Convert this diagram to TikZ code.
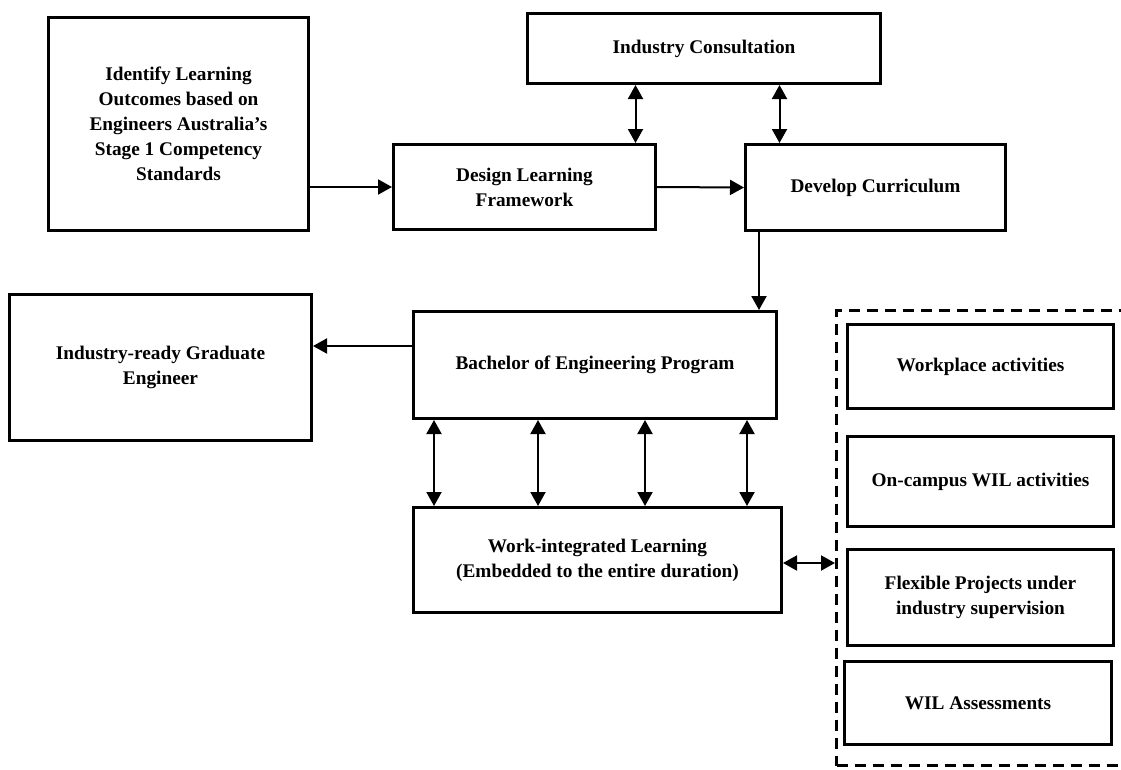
\documentclass[tikz,border=0pt]{standalone}
\usepackage{fontspec}
\setmainfont{Liberation Serif}
\usepackage{tikz}
\usetikzlibrary{arrows.meta, positioning}
\tikzstyle{process} = [rectangle, line width=3.3pt, draw=black, fill=white, inner sep=0pt, align=center, font=\bfseries\fontsize{19.3}{25}\selectfont]
\tikzstyle{group} = [rectangle, line width=3pt, draw=black, dash pattern=on 11pt off 7pt]
\tikzstyle{arrow} = [line width=2pt, -{Triangle[length=14pt, width=15pt]}]
\tikzstyle{dblarrow} = [line width=2pt, {Triangle[length=14pt, width=15pt]}-{Triangle[length=14pt, width=15pt]}]

\begin{document}
\begin{tikzpicture}[x=1pt, y=-1pt]
		\useasboundingbox (0,0) rectangle (1121,769);
		\clip (0,0) rectangle (1121,769);
		
		\node (ident) [process, minimum width=259.7pt, minimum height=212.7pt] at (178.5,124) {Identify Learning\\Outcomes based on\\Engineers Australia’s\\Stage 1 Competency\\Standards};
		\node (consult) [process, minimum width=352.7pt, minimum height=69.7pt] at (704,48.5) {Industry Consultation};
		\node (design) [process, minimum width=261.7pt, minimum height=84.7pt] at (524.5,187) {Design Learning\\Framework};
		\node (develop) [process, minimum width=259.7pt, minimum height=85.7pt] at (875.5,187.5) {Develop Curriculum};
		
		\node (grad) [process, minimum width=301.7pt, minimum height=145.7pt] at (160.5,367.5) {Industry-ready Graduate\\Engineer};
		\node (bachelor) [process, minimum width=362.7pt, minimum height=106.7pt] at (595,365) {Bachelor of Engineering Program};
		\node (wil) [process, minimum width=367.7pt, minimum height=104.7pt] at (597.5,560) {Work-integrated Learning\\(Embedded to the entire duration)};
		
		\node (wilgroup) [group, minimum width=297pt, minimum height=455pt] at (985,538) {};
		\node (work) [process, minimum width=265.7pt, minimum height=83.7pt] at (980.5,366.5) {Workplace activities};
		\node (oncampus) [process, minimum width=265.7pt, minimum height=89.7pt, below=25pt of work] {On-campus WIL activities};
		\node (flex) [process, minimum width=265.7pt, minimum height=95.7pt, below=20pt of oncampus] {Flexible Projects under\\industry supervision};
		\node (assess) [process, minimum width=266.7pt, minimum height=82.7pt, below=13pt of flex, xshift=-2.5pt] {WIL Assessments};
		
		\draw [arrow] (ident.east |- design.west) -- (design.west);
		\draw [arrow] (design.east) -- (develop.west);
		\draw [dblarrow] ([xshift=111pt]design.north) -- ([xshift=111pt]design.north |- consult.south);
		\draw [dblarrow] ([xshift=-96pt]develop.north) -- ([xshift=-96pt]develop.north |- consult.south);
		\draw [arrow] ([xshift=15pt]develop.south west) -- ([xshift=15pt]develop.south west |- bachelor.north);
		\draw [arrow] ([yshift=19pt]bachelor.west) -- ([yshift=19pt]bachelor.west -| grad.east);
		
		\foreach \dx in {22,126,233,335}
			\draw [dblarrow] ([xshift=\dx pt]bachelor.south west) -- ([xshift=\dx pt]bachelor.south west |- wil.north);
		\draw [dblarrow] ([yshift=-3pt]wil.east) -- ([yshift=-3pt]wil.east -| wilgroup.west);
		
\end{tikzpicture}
\end{document}
